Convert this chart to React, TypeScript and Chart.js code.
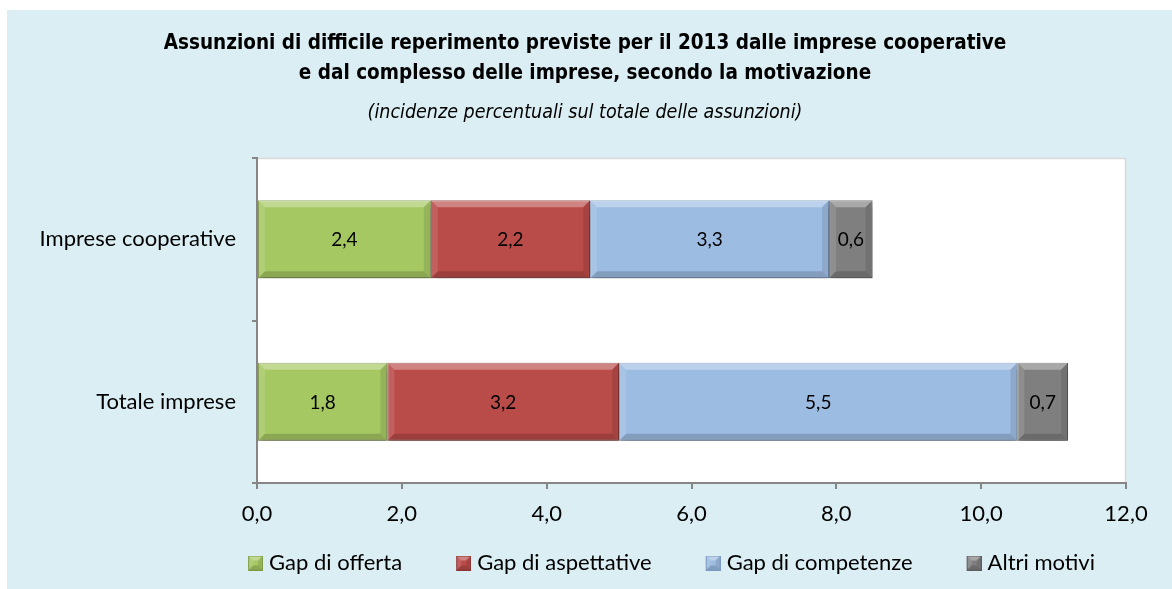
import React, { useEffect, useRef } from 'react';
import { Chart, registerables } from 'chart.js';

Chart.register(...registerables);

// ---- data ----
const categories = ['Imprese cooperative', 'Totale imprese'];
const seriesNames = ['Gap di offerta', 'Gap di aspettative', 'Gap di competenze', 'Altri motivi'];
const gapOfferta = [2.4, 1.8];
const gapAspettative = [2.2, 3.2];
const gapCompetenze = [3.3, 5.5];
const altriMotivi = [0.6, 0.7];
const xTicks = [0, 2, 4, 6, 8, 10, 12];
const titleLines = [
  'Assunzioni di difficile reperimento previste per il 2013 dalle imprese cooperative',
  'e dal complesso delle imprese, secondo la motivazione',
];
const subtitleText = '(incidenze percentuali sul totale delle assunzioni)';

// ---- styles ----
const seriesColors = ['#A6C862', '#B94B48', '#9DBCE2', '#7F7F7F'];
const seriesBorders = ['#7E9A45', '#8E3533', '#7C9BC2', '#5E5E5E'];
const BG = '#DAEEF3';
const AXIS = '#868686';
const BODY_FONT = 'Lato, "Open Sans", sans-serif';
const TITLE_FONT = '"Liberation Sans Narrow", "DejaVu Sans Condensed", "Liberation Sans", sans-serif';

const fmt = (v: number) => Number(v).toFixed(1).replace('.', ',');

function bevel(ctx: CanvasRenderingContext2D, l: number, t: number, r: number, b: number, w: number) {
  const bw = Math.min(w, (r - l) / 2, (b - t) / 2);
  const poly = (pts: number[][], c: string) => {
    ctx.beginPath();
    ctx.moveTo(pts[0][0], pts[0][1]);
    for (let i = 1; i < pts.length; i++) ctx.lineTo(pts[i][0], pts[i][1]);
    ctx.closePath();
    ctx.fillStyle = c;
    ctx.fill();
  };
  poly([[l, t], [r, t], [r - bw, t + bw], [l + bw, t + bw]], 'rgba(255,255,255,0.32)');
  poly([[l, t], [l + bw, t + bw], [l + bw, b - bw], [l, b]], 'rgba(255,255,255,0.12)');
  poly([[l, b], [l + bw, b - bw], [r - bw, b - bw], [r, b]], 'rgba(0,0,0,0.16)');
  poly([[r, t], [r, b], [r - bw, b - bw], [r - bw, t + bw]], 'rgba(0,0,0,0.10)');
}

// legend marker: 25x15 image, the 15x15 bevelled square sits on its right part
function legendBox(color: string, border: string) {
  const c = document.createElement('canvas');
  c.width = 25;
  c.height = 15;
  const ctx = c.getContext('2d') as CanvasRenderingContext2D;
  ctx.fillStyle = color;
  ctx.fillRect(10, 0, 15, 15);
  bevel(ctx, 10, 0, 25, 15, 5);
  ctx.strokeStyle = border;
  ctx.lineWidth = 1;
  ctx.strokeRect(10.5, 0.5, 14, 14);
  return c;
}

const plotPlugin = {
  id: 'plotDecor',
  beforeDraw(chart: any) {
    const { ctx, chartArea: a } = chart;
    ctx.save();
    ctx.fillStyle = '#FFFFFF';
    ctx.fillRect(a.left, a.top, a.right - a.left, a.bottom - a.top);
    ctx.strokeStyle = '#D9D9D9';
    ctx.lineWidth = 1.5;
    ctx.beginPath();
    ctx.moveTo(a.left, a.top + 0.5);
    ctx.lineTo(a.right - 0.5, a.top + 0.5);
    ctx.lineTo(a.right - 0.5, a.bottom);
    ctx.stroke();
    ctx.restore();
  },
  beforeDatasetsDraw(chart: any) {
    const ctx = chart.ctx;
    ctx.save();
    ctx.shadowColor = 'rgba(0,0,0,0.32)';
    ctx.shadowBlur = 7;
    ctx.shadowOffsetX = 2;
    ctx.shadowOffsetY = 4;
  },
  afterDatasetsDraw(chart: any) {
    const ctx = chart.ctx;
    ctx.restore();
    ctx.save();
    chart.data.datasets.forEach((ds: any, di: number) => {
      const meta = chart.getDatasetMeta(di);
      meta.data.forEach((el: any) => {
        const { x, y, base, height } = el.getProps(['x', 'y', 'base', 'height'], true);
        bevel(ctx, Math.min(x, base), y - height / 2, Math.max(x, base), y + height / 2, 7);
      });
    });
    ctx.fillStyle = '#000000';
    ctx.font = '19px ' + BODY_FONT;
    ctx.textAlign = 'center';
    ctx.textBaseline = 'middle';
    chart.data.datasets.forEach((ds: any, di: number) => {
      const meta = chart.getDatasetMeta(di);
      meta.data.forEach((el: any, i: number) => {
        const { x, y, base } = el.getProps(['x', 'y', 'base'], true);
        ctx.fillText(fmt(ds.data[i]), (x + base) / 2, y + 1);
      });
    });
    ctx.restore();
  },
};

export default function App() {
  const ref = useRef<HTMLCanvasElement | null>(null);

  useEffect(() => {
    if (!ref.current) return;
    const values = [gapOfferta, gapAspettative, gapCompetenze, altriMotivi];
    const boxes = seriesColors.map((c, i) => legendBox(c, seriesBorders[i]));
    const chart = new Chart(ref.current, {
      type: 'bar',
      data: {
        labels: categories,
        datasets: seriesNames.map((name, i) => ({
          label: name,
          data: values[i],
          backgroundColor: seriesColors[i],
          borderColor: seriesBorders[i],
          borderWidth: 1,
          borderSkipped: false,
          categoryPercentage: 0.5,
          barPercentage: 0.96,
        })),
      },
      options: {
        indexAxis: 'y',
        animation: false,
        responsive: true,
        maintainAspectRatio: false,
        layout: { padding: { left: 19, right: 28, top: 0, bottom: 5 } },
        scales: {
          x: {
            type: 'linear',
            stacked: true,
            min: 0,
            max: 12,
            afterBuildTicks: (s: any) => {
              s.ticks = xTicks.map((v) => ({ value: v }));
            },
            afterFit: (s: any) => {
              s.height = 20;
              s.paddingRight = 46;
            },
            ticks: {
              color: '#000000',
              font: { family: BODY_FONT, size: 22 },
              mirror: true,
              padding: -44,
              callback: (v: any) => fmt(v),
            },
            grid: { drawOnChartArea: false, drawTicks: true, tickLength: 6, color: AXIS, lineWidth: 2 },
            border: { display: true, color: AXIS, width: 2, z: 1 },
          },
          y: {
            type: 'category',
            stacked: true,
            offset: true,
            afterFit: (s: any) => {
              s.width = 231;
            },
            ticks: {
              color: '#000000',
              font: { family: BODY_FONT, size: 22 },
              padding: 16,
            },
            grid: { offset: true, drawOnChartArea: false, drawTicks: true, tickLength: 5, color: AXIS, lineWidth: 2 },
            border: { display: true, color: AXIS, width: 2, z: 1 },
          },
        },
        plugins: {
          title: {
            display: true,
            text: titleLines,
            color: '#000000',
            font: { family: TITLE_FONT, size: 20.5, weight: 'bold', lineHeight: '30px' },
            padding: { top: 19, bottom: 0 },
          },
          subtitle: {
            display: true,
            text: subtitleText,
            color: '#000000',
            font: { family: TITLE_FONT, size: 19.5, style: 'italic', lineHeight: '20px' },
            padding: { top: 14, bottom: 35 },
          },
          legend: {
            display: true,
            position: 'bottom',
            align: 'end',
            labels: {
              color: '#000000',
              font: { family: BODY_FONT, size: 22 },
              padding: 49,
              boxWidth: 15,
              boxHeight: 15,
              usePointStyle: true,
              pointStyleWidth: 15,
              generateLabels: (ch: any) =>
                Chart.defaults.plugins.legend.labels.generateLabels(ch).map((l: any, i: number) => ({
                  ...l,
                  pointStyle: boxes[i],
                })),
            },
          },
          tooltip: { enabled: false },
        },
      },
      plugins: [plotPlugin],
    } as any);
    return () => chart.destroy();
  }, []);

  return (
    <div
      style={{
        position: 'absolute',
        left: 7,
        top: 10,
        width: 1165,
        height: 579,
        background: BG,
      }}
    >
      <canvas ref={ref} />
    </div>
  );
}
